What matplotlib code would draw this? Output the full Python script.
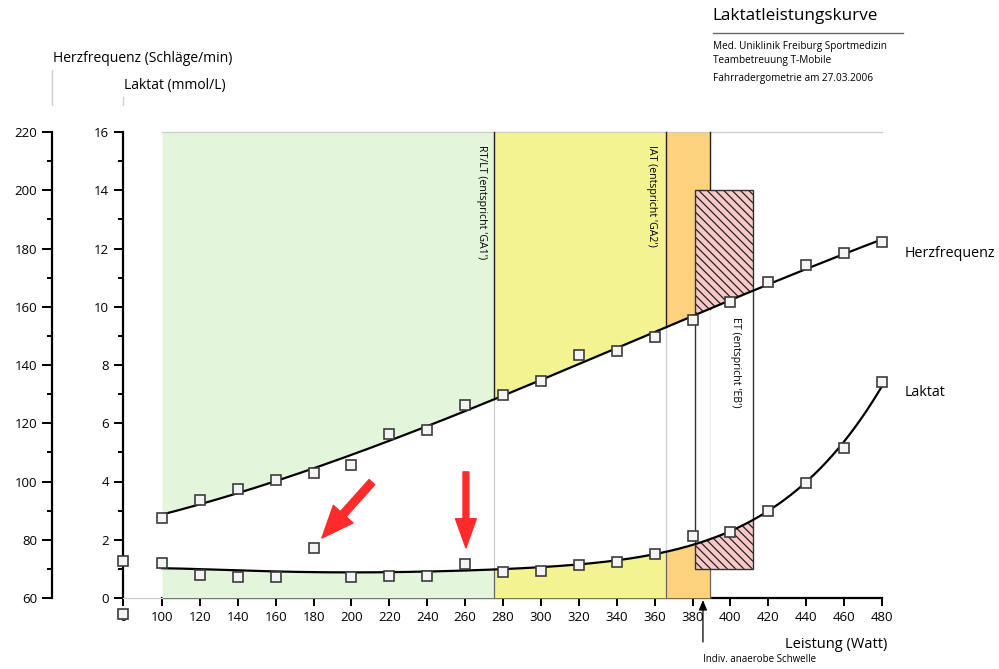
import numpy as np
import matplotlib
matplotlib.use("Agg")
import matplotlib.pyplot as plt
from matplotlib.patches import FancyArrowPatch, Rectangle
from matplotlib.lines import Line2D
from matplotlib.ticker import FixedLocator

plt.rcParams['font.family'] = ['Open Sans', 'DejaVu Sans']
plt.rcParams['hatch.linewidth'] = 0.9

# ---------------- data ----------------
watts = [100, 120, 140, 160, 180, 200, 220, 240, 260, 280,
         300, 320, 340, 360, 380, 400, 420, 440, 460, 480]
heart_rate = [87.5, 93.6, 97.4, 100.5, 102.9, 105.7, 116.3, 117.7, 126.3, 129.7,
              134.5, 143.4, 144.8, 149.6, 155.5, 161.6, 168.5, 174.3, 178.5, 182.4]
lactate = [1.20, 0.79, 0.72, 0.72, 1.72, 0.72, 0.74, 0.74, 1.17, 0.89,
           0.93, 1.13, 1.24, 1.51, 2.13, 2.27, 2.99, 3.95, 5.15, 7.42]
rest_heart_rate = 54.5
rest_lactate = 1.27

x_tick_values = [100, 120, 140, 160, 180, 200, 220, 240, 260, 280,
                 300, 320, 340, 360, 380, 400, 420, 440, 460, 480]
lactate_ticks = [0, 2, 4, 6, 8, 10, 12, 14, 16]
lactate_minor = [1, 3, 5, 7, 9, 11, 13, 15]
hr_ticks = [60, 80, 100, 120, 140, 160, 180, 200, 220]
hr_minor = [70, 90, 110, 130, 150, 170, 190, 210]

zone_edges = [100, 275.2, 366.0, 389.2]
zone_colors = ['#e3f6dc', '#f3f391', '#fcd27c']
zone_labels = ["RT/LT (entspricht 'GA1')", "IAT (entspricht 'GA2')"]
et_watts = (381.3, 411.9)
et_lactate = (1.0, 14.0)
et_label = "ET (entspricht 'EB')"
threshold_watt = 385.5

# ---------------- layout ----------------
W, H = 999, 669
fig = plt.figure(figsize=(W / 100, H / 100), dpi=100)
ax = fig.add_axes([0, 0, 1, 1])
px_per_watt = 720 / 380.0
px_per_lac = 466 / 16.0
ax.set_xlim(100 - 162 / px_per_watt, 100 + (W - 162) / px_per_watt)
ax.set_ylim((598 - H) / px_per_lac, 598 / px_per_lac)
ax.patch.set_visible(False)
zero_pos = 100 - 39 / px_per_watt      # position of the "0" watt point (axis break)
hr_axis_pos = 100 - 110 / px_per_watt

ax2 = ax.twinx()
ax2.set_ylim(60 + 10 * np.array(ax.get_ylim()))
ax2.patch.set_visible(False)


def to_hr(vals):
    vals = np.atleast_1d(np.asarray(vals, dtype=float))
    pts = np.column_stack([np.zeros_like(vals), vals])
    disp = ax.transData.transform(pts)
    return ax2.transData.inverted().transform(disp)[:, 1]


for s in ['top', 'right']:
    ax.spines[s].set_visible(False)
for s in ['top', 'right', 'bottom']:
    ax2.spines[s].set_visible(False)

ax.spines['left'].set_position(('data', zero_pos))
ax.spines['left'].set_bounds(0, 16)
ax.spines['bottom'].set_position(('data', 0))
ax.spines['bottom'].set_bounds(100, 480)
for s in ['left', 'bottom']:
    ax.spines[s].set_linewidth(1.6)
ax.set_yticks(lactate_ticks)
ax.yaxis.set_minor_locator(FixedLocator(lactate_minor))
ax.set_xticks([zero_pos] + x_tick_values, labels=['0'] + [str(v) for v in x_tick_values])
ax.tick_params(axis='y', which='major', direction='out', length=6.5, width=1.4, pad=3.5, labelsize=9.5)
ax.tick_params(axis='y', which='minor', direction='out', length=3.5, width=1.4)
ax.tick_params(axis='x', which='major', direction='out', length=6, width=1.4, pad=3.5, labelsize=9.5)

ax2.yaxis.set_ticks_position('left')
ax2.yaxis.set_label_position('left')
ax2.spines['left'].set_position(('data', hr_axis_pos))
ax2.spines['left'].set_bounds(60, 220)
ax2.spines['left'].set_linewidth(1.6)
ax2.set_yticks(hr_ticks)
ax2.yaxis.set_minor_locator(FixedLocator(hr_minor))
ax2.tick_params(axis='y', which='major', direction='out', length=7, width=1.4, pad=3.5, labelsize=9.5)
ax2.tick_params(axis='y', which='minor', direction='out', length=3.5, width=1.4)
ax2.set_xlim(ax.get_xlim())

# fits
hr_coef = np.polyfit(watts, heart_rate, 3)
lac_coef = np.polyfit(watts, lactate, 5)
xs = np.linspace(100, 480, 500)

# thin gray guide lines (drawn first)
ax2.plot([zero_pos, 100], to_hr([0, 0]), color='#cccccc', lw=0.9, zorder=0.5)
ax2.plot([100, 480], to_hr([16, 16]), color='#cccccc', lw=0.9, zorder=1.5)
for b, c in zip(zone_edges[1:], ['#cfcfcf', '#cfcfcf', '#eeeeee']):
    ax2.plot([b, b], to_hr([0, 16]), color=c, lw=0.9, zorder=0.6)

# zone fills: above heart rate curve and below lactate curve
for a, b, col in zip(zone_edges[:-1], zone_edges[1:], zone_colors):
    xz = np.linspace(a, b, 120)
    ax2.fill_between(xz, np.polyval(hr_coef, xz), to_hr(16)[0], color=col, lw=0, zorder=1)
    ax2.fill_between(xz, to_hr(0)[0], to_hr(np.polyval(lac_coef, xz)), color=col, lw=0, zorder=1)

for b in zone_edges[1:]:
    ax2.plot([b, b], [np.polyval(hr_coef, b), to_hr(16)[0]], color='#222222', lw=1.0, zorder=2)
    ax2.plot([b, b], to_hr([0, np.polyval(lac_coef, b)]), color='#666666', lw=0.9, zorder=2)

# ET hatched box
xh = np.linspace(et_watts[0], et_watts[1], 80)
ax2.fill_between(xh, np.polyval(hr_coef, xh), to_hr(et_lactate[1])[0], facecolor='#f9c8c8',
                 edgecolor='#222222', hatch='\\\\\\\\', lw=0, zorder=3)
ax2.fill_between(xh, to_hr(et_lactate[0])[0], to_hr(np.polyval(lac_coef, xh)), facecolor='#f9c8c8',
                 edgecolor='#222222', hatch='\\\\\\\\', lw=0, zorder=3)
lo, hi = to_hr(et_lactate)
ax2.add_patch(Rectangle((et_watts[0], lo), et_watts[1] - et_watts[0], hi - lo,
                        fill=False, ec='#333333', lw=1.0, zorder=4))

# curves
ax2.plot(xs, np.polyval(hr_coef, xs), color='black', lw=1.6, zorder=5)
ax2.plot(xs, to_hr(np.polyval(lac_coef, xs)), color='black', lw=1.6, zorder=5)

# markers
mk = dict(marker='s', ls='none', ms=7.3, mfc='#f4f4f4', mec='#3c3c3c', mew=1.2, zorder=6, clip_on=False)
ax2.plot(watts, heart_rate, **mk)
ax2.plot(watts, to_hr(lactate), **mk)
ax2.plot([zero_pos], [rest_heart_rate], **mk)
ax2.plot([zero_pos], to_hr([rest_lactate]), **mk)

# zone labels
ax2.text(268.4, to_hr(15.55)[0], zone_labels[0], rotation=270, ha='center', va='top', fontsize=7.6, zorder=7)
ax2.text(358.6, to_hr(15.55)[0], zone_labels[1], rotation=270, ha='center', va='top', fontsize=7.6, zorder=7)
ax2.text(402.6, to_hr(9.65)[0], et_label, rotation=270, ha='center', va='top', fontsize=7.6, zorder=7)

# red arrows pointing at outliers
ax2.add_patch(FancyArrowPatch((210.8, to_hr(3.98)[0]), (184.4, to_hr(2.06)[0]),
                              arrowstyle='simple,head_length=2.3,head_width=1.9,tail_width=0.55',
                              mutation_scale=10, color='#ff2b2b',
                              shrinkA=0, shrinkB=0, zorder=7))
ax2.add_patch(FancyArrowPatch((260.4, to_hr(4.33)[0]), (260.4, to_hr(1.72)[0]),
                              arrowstyle='simple,head_length=2.1,head_width=1.5,tail_width=0.42',
                              mutation_scale=10, color='#ff2b2b',
                              shrinkA=0, shrinkB=0, zorder=7))

# threshold arrow
ax2.add_patch(FancyArrowPatch((threshold_watt, to_hr(-1.51)[0]), (threshold_watt, to_hr(-0.07)[0]),
                              arrowstyle='-|>,head_length=0.6,head_width=0.25', mutation_scale=10,
                              color='black', lw=0.9, shrinkA=0, shrinkB=0, zorder=7, clip_on=False))


def ftext(x, y, s, **kw):
    fig.text(x / W, 1 - y / H, s, **kw)


ftext(703, 660, 'Indiv. anaerobe Schwelle', fontsize=7, ha='left', va='center')
ftext(785, 644, 'Leistung (Watt)', fontsize=10.5, ha='left', va='center')
ftext(905, 253, 'Herzfrequenz', fontsize=10.3, ha='left', va='center')
ftext(905, 393, 'Laktat', fontsize=10.3, ha='left', va='center')
ftext(53, 58, 'Herzfrequenz (Schläge/min)', fontsize=10, ha='left', va='center')
ftext(124, 85, 'Laktat (mmol/L)', fontsize=10, ha='left', va='center')

ftext(712, 16, 'Laktatleistungskurve', fontsize=12.3, ha='left', va='center')
fig.add_artist(Line2D([713 / W, 903 / W], [1 - 33 / H, 1 - 33 / H], color='#666666', lw=1.0))
ftext(713, 46, 'Med. Uniklinik Freiburg Sportmedizin', fontsize=7.2, ha='left', va='center')
ftext(713, 60, 'Teambetreuung T-Mobile', fontsize=7.2, ha='left', va='center')
ftext(713, 79, 'Fahrradergometrie am 27.03.2006', fontsize=7.2, ha='left', va='center')

# small axis-break guide lines above the axes
ax2.plot([hr_axis_pos, hr_axis_pos], to_hr([16.93, 18.13]), color='#d0d0d0', lw=1.0, clip_on=False)
ax2.plot([zero_pos, zero_pos], to_hr([16.93, 17.2]), color='#d0d0d0', lw=1.0, clip_on=False)

fig.savefig('out.png', dpi=100)
